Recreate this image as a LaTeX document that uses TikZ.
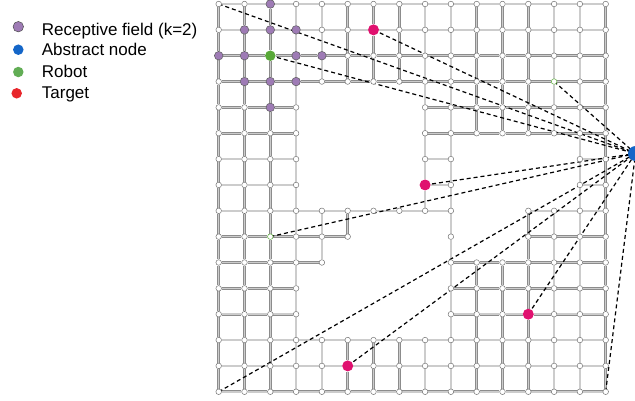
\documentclass[tikz,border=0pt]{standalone}
\usepackage{fontspec}
\setmainfont{Liberation Sans}
\definecolor{rfcol}{HTML}{9E7BB5}
\definecolor{robotcol}{HTML}{58A838}
\definecolor{targetcol}{HTML}{E0116F}
\definecolor{abscol}{HTML}{1466C8}
\definecolor{legred}{HTML}{E8262B}
\definecolor{leggreen}{HTML}{62AD55}
\pgfdeclarelayer{edges}
\pgfdeclarelayer{dash}
\pgfsetlayers{edges,dash,main}
\newcommand\setmiss[2]{\expandafter\gdef\csname miss-#1-#2\endcsname{1}}
\newcommand\setsty[3]{\expandafter\gdef\csname sty-#1-#2\endcsname{#3}}
\tikzset{
  gnode/.style={circle, draw=black!55, fill=white, line width=0.5pt, inner sep=0pt, minimum size=5.6pt},
  rfnode/.style={circle, draw=black!65, fill=rfcol, line width=0.5pt, inner sep=0pt, minimum size=8.6pt},
  robotnode/.style={circle, fill=robotcol, inner sep=0pt, minimum size=10.5pt},
  targetnode/.style={circle, fill=targetcol, inner sep=0pt, minimum size=11pt},
  otherrobot/.style={gnode, draw=robotcol},
  absnode/.style={circle, fill=abscol, inner sep=0pt, minimum size=15pt},
  gedge/.style={draw=black!45, double=black!20, double distance=1.5pt, line width=0.55pt},
  link/.style={draw=black, line width=1.2pt, dash pattern=on 4pt off 3pt},
  legtext/.style={anchor=base west, inner sep=0pt, font=\fontsize{17}{20}\selectfont},
  legdot/.style={circle, inner sep=0pt, minimum size=10.5pt},
}
% missing grid cells
\foreach \j in {4,...,7} {\foreach \i in {4,...,7} {\setmiss{\i}{\j}}}
\foreach \i in {6,7,8} {\setmiss{\i}{9}}
\foreach \i in {5,...,8} {\setmiss{\i}{10}}
\foreach \j in {11,12} {\foreach \i in {4,...,8} {\setmiss{\i}{\j}}}
\foreach \j in {6,7} {\foreach \i in {10,...,13} {\setmiss{\i}{\j}}}
\foreach \j in {8,9} {\foreach \i in {10,11} {\setmiss{\i}{\j}}}
% special nodes
\foreach \i/\j in {2/0,1/1,2/1,3/1,0/2,1/2,3/2,4/2,1/3,2/3,3/3,2/4} {\setsty{\i}{\j}{rfnode}}
\setsty{2}{2}{robotnode}
\foreach \i/\j in {6/1,8/7,12/12,5/14} {\setsty{\i}{\j}{targetnode}}
\foreach \i/\j in {13/3,2/9} {\setsty{\i}{\j}{otherrobot}}
\begin{document}
\begin{tikzpicture}[x=1pt,y=-1pt]
\useasboundingbox (0,0) rectangle (635,400);
\clip (0,0) rectangle (635,400);
% grid nodes
\foreach \i in {0,...,15}{\foreach \j in {0,...,15}{%
  \ifcsname miss-\i-\j\endcsname\else
    \ifcsname sty-\i-\j\endcsname\edef\st{\csname sty-\i-\j\endcsname}\else\def\st{gnode}\fi
    \node[\st] (n-\i-\j) at ({218.7+25.8*\i},{4+25.85*\j}) {};
  \fi}}
% grid edges
\begin{pgfonlayer}{edges}
\foreach \i in {0,...,15}{\foreach \j in {0,...,15}{%
  \ifcsname miss-\i-\j\endcsname\else
    \pgfmathtruncatemacro\ni{\i+1}\pgfmathtruncatemacro\nj{\j+1}%
    \ifnum\i<15 \ifcsname miss-\ni-\j\endcsname\else\draw[gedge] (n-\i-\j) -- (n-\ni-\j);\fi\fi
    \ifnum\j<15 \ifcsname miss-\i-\nj\endcsname\else\draw[gedge] (n-\i-\j) -- (n-\i-\nj);\fi\fi
  \fi}}
\end{pgfonlayer}
% abstract node and its links
\node[absnode] (abs) at (635.5,153.5) {};
\begin{pgfonlayer}{dash}
\foreach \s in {n-0-0,n-6-1,n-2-2,n-13-3,n-8-7,n-2-9,n-0-15,n-5-14,n-12-12,n-15-15}
  {\draw[link] (\s.center) -- (abs.center);}
\end{pgfonlayer}
% legend
\node[legdot, fill=rfcol, draw=black!70, line width=0.5pt] (leg-rf) at (18.3,26.7) {};
\node[legtext] (leg-rf-t) at (41.7,35) {Receptive field (k=2)};
\node[legdot, fill=abscol] (leg-abs) at (18.3,49.7) {};
\node[legtext] (leg-abs-t) at (41.7,55.5) {Abstract node};
\node[legdot, fill=leggreen] (leg-rob) at (18.3,72) {};
\node[legtext] (leg-rob-t) at (41.7,77) {Robot};
\node[legdot, fill=legred] (leg-tar) at (16.7,93.3) {};
\node[legtext] (leg-tar-t) at (41.7,98.3) {Target};
\end{tikzpicture}
\end{document}
